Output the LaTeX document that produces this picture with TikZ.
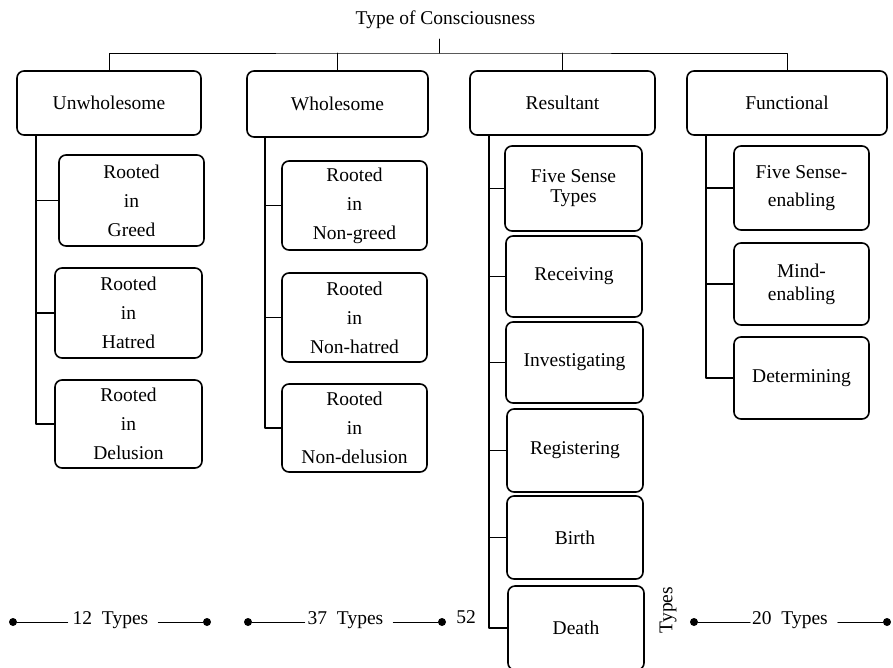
\documentclass[tikz,border=0pt]{standalone}
\usepackage{fontspec}
\setmainfont{Liberation Serif}
\begin{document}
\begin{tikzpicture}[x=1pt,y=-1pt,line join=round,line cap=round,
  box/.style={draw,rounded corners=7pt,line width=1.6pt,align=center,inner sep=0pt,
    font=\fontsize{19.5}{29}\selectfont},
  lbl/.style={font=\fontsize{19.5}{23}\selectfont,inner sep=0pt,anchor=base},
  link/.style={line width=1.6pt},
  bar/.style={line width=1pt},
  dot/.style={circle,fill,inner sep=0pt,minimum size=8pt}]
\useasboundingbox (0,0) rectangle (893,667);
% title and main categories
\node[lbl] (title) at (445.5,24) {Type of Consciousness};
\node[box,minimum width=184,minimum height=64] (uw) at (109,103) {Unwholesome};
\node[box,minimum width=181,minimum height=66] (ws) at (337.5,104) {Wholesome};
\node[box,minimum width=185,minimum height=64] (rs) at (562.5,103) {Resultant};
\node[box,minimum width=200,minimum height=64] (fn) at (787,103) {Functional};
\coordinate (hub) at (439,53);
\draw[bar] (hub) -- ++(0,-14);
\draw[bar] (uw.north) |- (hub) -| (fn.north);
\draw[bar] (ws.north) -- (ws.north |- hub);
\draw[bar] (rs.north) -- (rs.north |- hub);
% unwholesome
\node[box,minimum width=145,minimum height=91] (g1) at (131.5,200.5) {Rooted\\in\\Greed};
\node[box,minimum width=147,minimum height=90] (g2) at (128.5,313) {Rooted\\in\\Hatred};
\node[box,minimum width=147,minimum height=88] (g3) at (128.5,424) {Rooted\\in\\Delusion};
\foreach \c in {g1,g2,g3} \draw[link] ([xshift=20pt]uw.south west) |- (\c.west);
% wholesome
\node[box,minimum width=145,minimum height=89] (w1) at (354.5,205.5) {Rooted\\in\\Non-greed};
\node[box,minimum width=145,minimum height=89] (w2) at (354.5,317.5) {Rooted\\in\\Non-hatred};
\node[box,minimum width=145,minimum height=88] (w3) at (354.5,428) {Rooted\\in\\Non-delusion};
\foreach \c in {w1,w2,w3} \draw[link] ([xshift=19pt]ws.south west) |- (\c.west);
% resultant
\node[box,minimum width=137,minimum height=85,font=\fontsize{19.5}{20}\selectfont] (r1) at (573.5,188.5) {Five Sense\\Types};
\node[box,minimum width=136,minimum height=81] (r2) at (574,276.5) {Receiving};
\node[box,minimum width=137,minimum height=81] (r3) at (574.5,362.5) {Investigating};
\node[box,minimum width=136,minimum height=83] (r4) at (575,450.5) {Registering};
\node[box,minimum width=136,minimum height=83] (r5) at (575,537.5) {Birth};
\node[box,minimum width=136,minimum height=84] (r6) at (576,628) {Death};
\foreach \c in {r1,r2,r3,r4,r5,r6} \draw[link] ([xshift=19.5pt]rs.south west) |- (\c.west);
% functional
\node[box,minimum width=135,minimum height=84,font=\fontsize{19.5}{28}\selectfont] (f1) at (801.5,188) {Five Sense-\\enabling};
\node[box,minimum width=135,minimum height=82,font=\fontsize{19.5}{23}\selectfont] (f2) at (801.5,284) {Mind-\\enabling};
\node[box,minimum width=135,minimum height=82] (f3) at (801.5,378) {Determining};
\foreach \c in {f1,f2,f3} \draw[link] ([xshift=20pt]fn.south west) |- (\c.west);
% totals
\node[dot] (a1) at (13,622) {};
\node[lbl] (n1) at (110.5,624) {12\enspace Types};
\node[dot] (a2) at (207,622) {};
\node[dot] (b1) at (248,622) {};
\node[lbl] (n2) at (345.5,624) {37\enspace Types};
\node[dot] (b2) at (442,622) {};
\node[lbl] (n3) at (466,623) {52};
\node[lbl,rotate=90,anchor=center] (n4) at (668,610) {Types};
\node[dot] (c1) at (694,622) {};
\node[lbl] (n5) at (790,624) {20\enspace Types};
\node[dot] (c2) at (887,622) {};
\draw[bar] (a1) -- ([xshift=-5pt]a1 -| n1.west);
\draw[bar] ([xshift=10pt]a2 -| n1.east) -- (a2);
\draw[bar] (b1) -- ([xshift=-3pt]b1 -| n2.west);
\draw[bar] ([xshift=10pt]b2 -| n2.east) -- (b2);
\draw[bar] (c1) -- ([xshift=-2pt]c1 -| n5.west);
\draw[bar] ([xshift=10pt]c2 -| n5.east) -- (c2);
\end{tikzpicture}
\end{document}
